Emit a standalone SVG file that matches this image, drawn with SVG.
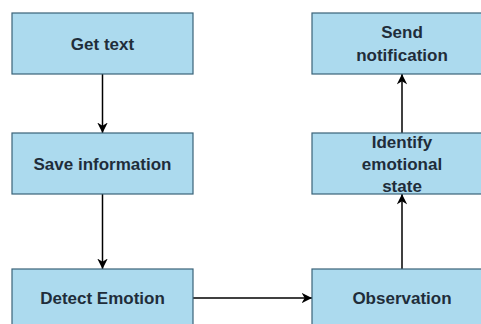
<svg xmlns="http://www.w3.org/2000/svg" width="481" height="324" viewBox="0 0 481 324">
  <style>
    .box { fill: #acdaee; stroke: #3a6378; stroke-width: 1.2; }
    .lbl { font-family: "Liberation Sans", Arial, sans-serif; font-weight: bold; font-size: 17px; fill: #1f2d3a; text-anchor: middle; }
    .edge { fill: none; stroke: #000; stroke-width: 1.5; marker-end: url(#arr); }
  </style>
  <defs>
    <marker id="arr" viewBox="0 0 10 10" refX="10" refY="5" markerWidth="7" markerHeight="7" markerUnits="strokeWidth" orient="auto">
      <path d="M0,0 L10,5 L0,10 L3,5 Z" fill="#000"/>
    </marker>
  </defs>
  <rect width="481" height="324" fill="#fff"/>
  <g id="connectors">
    <line class="edge" x1="102.5" y1="74" x2="102.5" y2="133"/>
    <line class="edge" x1="102.5" y1="194" x2="102.5" y2="269"/>
    <line class="edge" x1="193" y1="298" x2="312" y2="298"/>
    <line class="edge" x1="402" y1="269" x2="402" y2="194"/>
    <line class="edge" x1="402" y1="133" x2="402" y2="74"/>
  </g>
  <g id="get-text">
    <rect class="box" x="12" y="13" width="181" height="61"/>
    <text class="lbl" x="102.5" y="49.5">Get text</text>
  </g>
  <g id="save-information">
    <rect class="box" x="12" y="133" width="181" height="61"/>
    <text class="lbl" x="102.5" y="169.5">Save information</text>
  </g>
  <g id="detect-emotion">
    <rect class="box" x="12" y="269" width="181" height="61"/>
    <text class="lbl" x="102.5" y="304">Detect Emotion</text>
  </g>
  <g id="observation">
    <rect class="box" x="312" y="269" width="181" height="61"/>
    <text class="lbl" x="402" y="304">Observation</text>
  </g>
  <g id="identify-emotional-state">
    <rect class="box" x="312" y="133" width="181" height="61"/>
    <text class="lbl" x="402" y="148">Identify</text>
    <text class="lbl" x="402" y="170">emotional</text>
    <text class="lbl" x="402" y="192">state</text>
  </g>
  <g id="send-notification">
    <rect class="box" x="312" y="13" width="181" height="61"/>
    <text class="lbl" x="402" y="38">Send</text>
    <text class="lbl" x="402" y="61">notification</text>
  </g>
</svg>
